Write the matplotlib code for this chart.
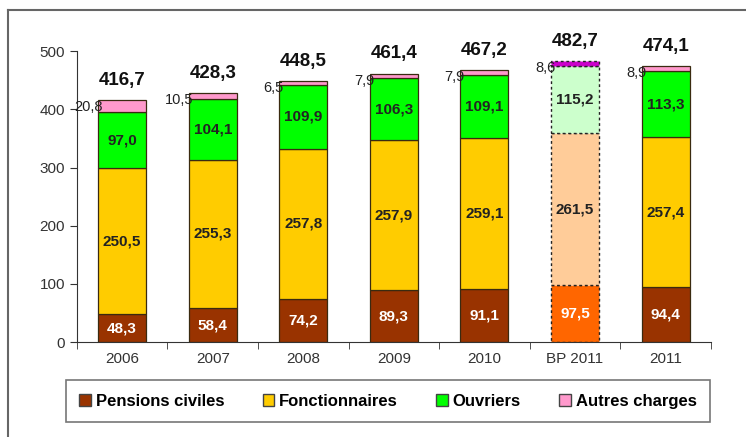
import matplotlib.pyplot as plt
from matplotlib.lines import Line2D
from matplotlib.patches import Patch
import numpy as np

plt.rcParams['font.family'] = ['Liberation Sans', 'DejaVu Sans']

years = ["2006", "2007", "2008", "2009", "2010", "BP 2011", "2011"]
pensions = [48.3, 58.4, 74.2, 89.3, 91.1, 97.5, 94.4]
fonctionnaires = [250.5, 255.3, 257.8, 257.9, 259.1, 261.5, 257.4]
ouvriers = [97.0, 104.1, 109.9, 106.3, 109.1, 115.2, 113.3]
autres = [20.8, 10.5, 6.5, 7.9, 7.9, 8.6, 8.9]
totaux = [416.7, 428.3, 448.5, 461.4, 467.2, 482.7, 474.1]
series_names = ["Pensions civiles", "Fonctionnaires", "Ouvriers", "Autres charges"]

colors = ["#993300", "#FFCC00", "#00FF00", "#FF99CC"]
colors_bp = ["#FF6600", "#FFCC99", "#CCFFCC", "#CC00CC"]
label_colors = ["white", "#222222", "#222222", "#222222"]
bp_index = years.index("BP 2011")

fig = plt.figure(figsize=(7.46, 4.37), dpi=100)
ax = fig.add_axes([0.103, 0.217, 0.85, 0.666])

x = np.arange(len(years))
w = 0.53
series = [pensions, fonctionnaires, ouvriers, autres]
bottom = np.zeros(len(years))
for k, vals in enumerate(series):
    vals = np.array(vals)
    for i in range(len(years)):
        if i == bp_index:
            ax.bar(x[i], vals[i], w, bottom=bottom[i], color=colors_bp[k],
                   edgecolor="#222222", linewidth=1.0, linestyle=(0, (2, 2)))
        else:
            ax.bar(x[i], vals[i], w, bottom=bottom[i], color=colors[k],
                   edgecolor="#3a2a10", linewidth=0.9)
        lbl = f"{vals[i]:.1f}".replace(".", ",")
        if k < 3:
            ax.text(x[i], bottom[i] + vals[i] / 2, lbl, ha="center", va="center",
                    fontsize=11, fontweight="bold", color=label_colors[k])
        else:
            ax.text(x[i] - w / 2 + 0.05, bottom[i] + vals[i] - 12, lbl, ha="right",
                    va="center", fontsize=10.5, color="#222222")
    bottom += vals

for i, t in enumerate(totaux):
    ax.annotate(f"{t:.1f}".replace(".", ","), (x[i], bottom[i]), xytext=(0, 8),
                textcoords="offset points", ha="center", va="bottom",
                fontsize=13.5, fontweight="bold", color="#111111")

ax.set_xlim(-0.5, len(years) - 0.5)
ax.set_ylim(0, 500)
ax.set_yticks([0, 100, 200, 300, 400, 500])
ax.set_xticks(x)
ax.set_xticklabels(years)
ax.set_xticks(np.arange(len(years) + 1) - 0.5, minor=True)
ax.tick_params(axis="x", which="major", length=0, pad=7, labelsize=11, labelcolor="#333333")
ax.tick_params(axis="x", which="minor", length=5, color="#333333")
ax.tick_params(axis="y", length=5, labelsize=11, labelcolor="#333333", color="#333333")
for s in ["top", "right"]:
    ax.spines[s].set_visible(False)
for s in ["left", "bottom"]:
    ax.spines[s].set_color("#333333")

handles = [Patch(facecolor=c, edgecolor="#444444") for c in colors]
leg = fig.legend(handles, series_names, ncol=4, loc="lower left",
                 bbox_to_anchor=(66 / 746, 15 / 437, 644 / 746, 42 / 437),
                 mode="expand", fancybox=False, edgecolor="#555555",
                 prop={"weight": "bold", "size": 12}, handlelength=0.7,
                 handleheight=0.7, handletextpad=0.3, borderaxespad=0,
                 borderpad=0.8)
leg.get_frame().set_linewidth(1.2)

fig.add_artist(Line2D([8 / 746, 1], [1 - 10 / 437, 1 - 10 / 437], color="#666666", lw=1.5))
fig.add_artist(Line2D([8 / 746, 8 / 746], [0, 1 - 10 / 437], color="#666666", lw=1.5))

fig.savefig("out.png", dpi=100)
